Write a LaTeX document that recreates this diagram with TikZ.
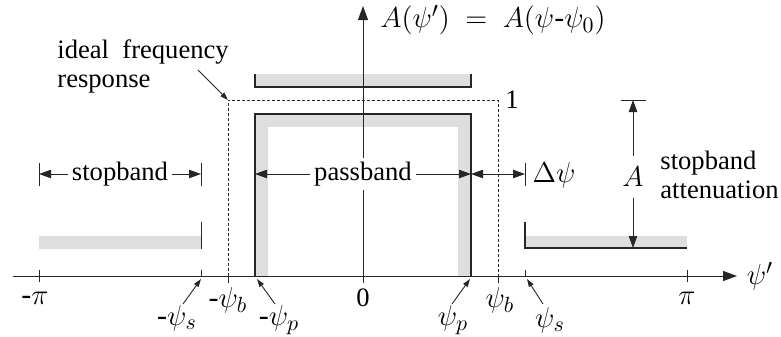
\documentclass[tikz,border=0pt]{standalone}
\usepackage{fontspec}
\setmainfont{Liberation Serif}
\usetikzlibrary{arrows.meta, positioning}

\begin{document}
\begin{tikzpicture}[
        x=0.5pt, y=-0.5pt,
        font=\fontsize{13.3}{14.5}\selectfont,
        band/.style={fill=black!13, draw=none},
        edge/.style={draw=black!85, line width=0.75pt},
        thin/.style={draw=black!85, line width=0.45pt},
        ideal/.style={draw=black!85, line width=0.45pt, dash pattern=on 1.5pt off 1pt},
        axis/.style={thin, -{Triangle[length=7pt, width=5pt]}},
        dim/.style={thin, {Triangle[length=6pt, width=4.2pt]}-{Triangle[length=6pt, width=4.2pt]}},
        tip/.style={thin, -{Triangle[length=6pt, width=4.2pt]}},
        pointer/.style={thin, -{Triangle[length=4pt, width=2.6pt]}},
        lbl/.style={inner sep=1pt},
        ticklbl/.style={inner sep=1pt, font=\fontsize{15}{17}\selectfont},
        gap/.style={fill=white, inner sep=2pt}
    ]
    \useasboundingbox (0,0) rectangle (781,337);

    % key points on the axis
    \coordinate (o) at (363,276);
    \coordinate (xl) at (13,276);
    \coordinate (xr) at (737,276);
    \coordinate (yt) at (363,6);

    % tolerance bands
    \fill[band] (39,236) rectangle (201,249);
    \fill[band] (525,236) rectangle (687,249);
    \fill[band] (255,74) rectangle (471,87);
    \draw[black!13, line width=6.5pt] (261.5,276) -- (261.5,120.5) -- (464.5,120.5) -- (464.5,276);

    \draw[edge] (255,74) -- (255,87) -- (471,87) -- (471,74);
    \draw[edge] (255,276) -- (255,114) -- (471,114) -- (471,276);
    \draw[thin] (201,222) -- (201,249);
    \draw[edge] (525,222) -- (525,248) -- (687,248);

    % ideal response
    \draw[ideal] (228,276) -- (228,100) -- (498,100) -- (498,276);

    % axes and ticks
    \draw[axis] (xl) -- (xr);
    \draw[axis] (o) -- (yt);
    \foreach \x in {39,687} \draw[thin] (\x,270) -- (\x,282);
    \foreach \x in {201,525} \draw[thin] (\x,270) -- (\x,276);
    \foreach \x in {228,363,498} \draw[thin] (\x,276) -- (\x,283);
    \foreach \x in {39,201,525} \draw[thin] (\x,163) -- (\x,186);

    % band widths
    \coordinate (sbL) at (39,174);
    \coordinate (sbR) at (201,174);
    \coordinate (pbL) at (255,174);
    \coordinate (pbR) at (471,174);
    \coordinate (tsR) at (525,174);
    \node[gap] (stop) at (120,174) {stopband};
    \node[gap] (pass) at (363,174) {passband};
    \draw[tip] (stop) -- (sbL);
    \draw[tip] (stop) -- (sbR);
    \draw[tip] (pass) -- (pbL);
    \draw[tip] (pass) -- (pbR);
    \draw[dim] (pbR) -- (tsR);
    \node[ticklbl] (dpsi) at (554,175) {$\Delta\psi$};

    % attenuation
    \coordinate (aT1) at (621,100);
    \coordinate (aT2) at (646,100);
    \coordinate (aTop) at (633,100);
    \coordinate (aBot) at (633,248);
    \draw[thin] (aT1) -- (aT2);
    \node[inner sep=5.5pt, font=\fontsize{15}{17}\selectfont] (att) at (633,177) {$A$};
    \draw[tip] (att) -- (aTop);
    \draw[tip] (att) -- (aBot);
    \node[align=left, anchor=west, inner sep=0pt] (attlbl) at (660,175) {stopband\\attenuation};

    % labels
    \node[anchor=west, ticklbl] (ylbl) at (378,20) {$A(\psi')\ =\ A(\psi$-$\psi_0)$};
    \node[align=left, anchor=west, inner sep=0pt] (idlbl) at (57,66) {ideal\ \ frequency\\response};
    \coordinate (idC) at (228,100);
    \coordinate (idS) at (198,70);
    \draw[pointer] (idS) -- (idC);
    \node[lbl] (one) at (512,100) {1};

    \node[ticklbl] (mpi) at (35,298) {-$\pi$};
    \node[ticklbl] (mps) at (177,318) {-$\psi_s$};
    \node[ticklbl] (mpb) at (228,300) {-$\psi_b$};
    \node[ticklbl] (mpp) at (279,320) {-$\psi_p$};
    \node[lbl] (zero) at (363,298) {0};
    \node[ticklbl] (pp) at (453,320) {$\psi_p$};
    \node[ticklbl] (ppb) at (500,300) {$\psi_b$};
    \node[ticklbl] (pps) at (550,320) {$\psi_s$};
    \node[ticklbl] (ppi) at (687,298) {$\pi$};
    \node[ticklbl] (xlbl) at (760,276) {$\psi'$};

    \coordinate (mpsS) at (183,304);
    \coordinate (mpsE) at (201,279);
    \coordinate (mppS) at (275,304);
    \coordinate (mppE) at (257,279);
    \coordinate (ppS) at (452,304);
    \coordinate (ppE) at (470,279);
    \coordinate (ppsS) at (543,304);
    \coordinate (ppsE) at (527,279);
    \draw[pointer] (mpsS) -- (mpsE);
    \draw[pointer] (mppS) -- (mppE);
    \draw[pointer] (ppS) -- (ppE);
    \draw[pointer] (ppsS) -- (ppsE);
\end{tikzpicture}
\end{document}
